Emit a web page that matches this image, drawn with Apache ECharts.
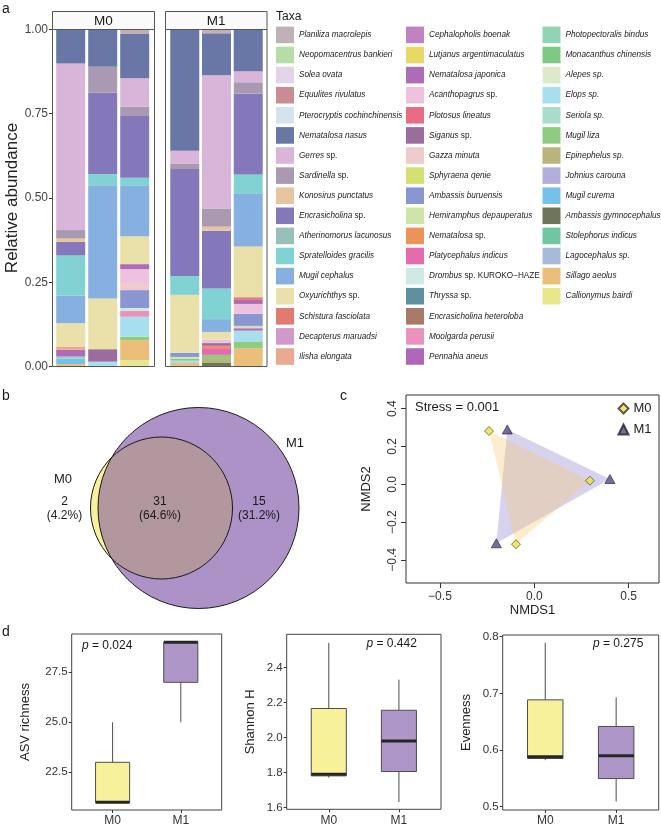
<!DOCTYPE html>
<html><head><meta charset="utf-8">
<script src="https://cdn.jsdelivr.net/npm/echarts@6/dist/echarts.min.js"></script>
<style>html,body{margin:0;padding:0;background:#fff}#c{width:661px;height:828px}</style>
</head><body><div id="c"></div>
<script>
const FONT = '"Liberation Sans", Arial, Helvetica, sans-serif';

// ---------- Panel a: taxa (legend order, top of stack first) ----------
const taxa = ['Planiliza macrolepis','Neopomacentrus bankieri','Solea ovata','Equulites rivulatus','Pterocryptis cochinchinensis','Nematalosa nasus','Gerres sp.','Sardinella sp.','Konosirus punctatus','Encrasicholina sp.','Atherinomorus lacunosus','Spratelloides gracilis','Mugil cephalus','Oxyurichthys sp.','Schistura fasciolata','Decapterus maruadsi','Ilisha elongata',
'Cephalopholis boenak','Lutjanus argentimaculatus','Nematalosa japonica','Acanthopagrus sp.','Plotosus lineatus','Siganus sp.','Gazza minuta','Sphyraena qenie','Ambassis buruensis','Hemiramphus depauperatus','Nematalosa sp.','Platycephalus indicus','Drombus sp. KUROKO\u2212HAZE','Thryssa sp.','Encrasicholina heteroloba','Moolgarda perusii','Pennahia aneus',
'Photopectoralis bindus','Monacanthus chinensis','Alepes sp.','Elops sp.','Seriola sp.','Mugil liza','Epinephelus sp.','Johnius carouna','Mugil curema','Ambassis gymnocephalus','Stolephorus indicus','Lagocephalus sp.','Sillago aeolus','Callionymus bairdi'];

const taxaColors = ['#BFB2B6','#B6DDA6','#E4D4EA','#C98B94','#D5E3EE','#6877A6','#D9B5DA','#A99AB2','#E9C59F','#8578BA','#98BFBA','#80D2D3','#86B0E0','#E9E1A9','#E17B71','#D398CA','#ECA98F',
'#C182C2','#E9D962','#AE6CB6','#EEC2DF','#E96C87','#9D6C9F','#F0CBCE','#D5E072','#8A96D1','#D0E4A7','#EE9357','#E56BAE','#CDEBE4','#5D90A1','#A97A6A','#E992BC','#B067B9',
'#90D4B3','#7EC983','#DEE9C9','#A7DFEE','#A9DCC9','#8FCC81','#B9B57A','#B4AEDB','#75C1EA','#6F7657','#6DC7A1','#A5BBD9','#EBBF79','#E9E78C'];

const samplesM0 = ['M0_1','M0_2','M0_3'];
const samplesM1 = ['M1_1','M1_2','M1_3'];

const abundM0_1 = {'Nematalosa nasus':0.101,'Gerres sp.':0.494,'Sardinella sp.':0.025,'Konosirus punctatus':0.010,'Encrasicholina sp.':0.040,'Spratelloides gracilis':0.119,'Mugil cephalus':0.082,'Oxyurichthys sp.':0.069,'Ilisha elongata':0.010,'Nematalosa japonica':0.020,'Photopectoralis bindus':0.006,'Mugil curema':0.016,'Sillago aeolus':0.008};
const abundM0_2 = {'Nematalosa nasus':0.111,'Sardinella sp.':0.077,'Encrasicholina sp.':0.241,'Spratelloides gracilis':0.033,'Mugil cephalus':0.336,'Oxyurichthys sp.':0.150,'Siganus sp.':0.037,'Elops sp.':0.015};
const abundM0_3 = {'Planiliza macrolepis':0.014,'Nematalosa nasus':0.131,'Gerres sp.':0.084,'Sardinella sp.':0.028,'Encrasicholina sp.':0.183,'Spratelloides gracilis':0.024,'Mugil cephalus':0.149,'Oxyurichthys sp.':0.083,'Nematalosa japonica':0.015,'Acanthopagrus sp.':0.041,'Gazza minuta':0.021,'Ambassis buruensis':0.053,'Drombus sp. KUROKO\u2212HAZE':0.009,'Moolgarda perusii':0.017,'Elops sp.':0.059,'Mugil liza':0.010,'Sillago aeolus':0.060,'Callionymus bairdi':0.019};
const abundM1_1 = {'Nematalosa nasus':0.360,'Gerres sp.':0.039,'Sardinella sp.':0.015,'Encrasicholina sp.':0.317,'Spratelloides gracilis':0.056,'Oxyurichthys sp.':0.172,'Ambassis buruensis':0.012,'Hemiramphus depauperatus':0.005,'Monacanthus chinensis':0.006,'Elops sp.':0.007,'Sillago aeolus':0.011};
const abundM1_2 = {'Planiliza macrolepis':0.012,'Nematalosa nasus':0.124,'Gerres sp.':0.395,'Sardinella sp.':0.054,'Konosirus punctatus':0.012,'Encrasicholina sp.':0.171,'Spratelloides gracilis':0.091,'Mugil cephalus':0.038,'Oxyurichthys sp.':0.023,'Acanthopagrus sp.':0.010,'Siganus sp.':0.008,'Nematalosa sp.':0.007,'Platycephalus indicus':0.020,'Mugil liza':0.012,'Epinephelus sp.':0.012,'Ambassis gymnocephalus':0.011};
const abundM1_3 = {'Nematalosa nasus':0.124,'Gerres sp.':0.033,'Sardinella sp.':0.033,'Encrasicholina sp.':0.240,'Spratelloides gracilis':0.058,'Mugil cephalus':0.156,'Oxyurichthys sp.':0.150,'Schistura fasciolata':0.008,'Nematalosa japonica':0.012,'Acanthopagrus sp.':0.029,'Ambassis buruensis':0.036,'Hemiramphus depauperatus':0.007,'Pennahia aneus':0.007,'Elops sp.':0.032,'Mugil liza':0.020,'Sillago aeolus':0.055};
const yTicksA = [0, 0.25, 0.5, 0.75, 1];

// ---------- Panel b: Venn ----------
const vennSets = ['M0','M1'];
const vennCounts = [2, 31, 15];        // M0 only, shared, M1 only
const vennPercents = ['4.2%','64.6%','31.2%'];

// ---------- Panel c: NMDS ----------
const nmdsM0 = [[-0.240, 0.282],[0.295, 0.019],[-0.097,-0.317]];
const nmdsM1 = [[-0.143, 0.290],[0.401, 0.028],[-0.201,-0.312]];
const nmdsStress = '0.001';
const nmdsXTicks = [-0.5, 0, 0.5];
const nmdsYTicks = [-0.4, -0.2, 0, 0.2, 0.4];

// ---------- Panel d: alpha diversity ----------
const groups = ['M0','M1'];
const asvM0 = [21, 21, 25], asvM1 = [25, 29, 29];
const shannonM0 = [1.77, 1.79, 2.54], shannonM1 = [1.63, 1.98, 2.33];
const evenM0 = [0.582, 0.588, 0.789], evenM1 = [0.509, 0.590, 0.693];
const pValues = ['0.024', '0.442', '0.275'];
const asvTicks = [22.5, 25, 27.5];
const shannonTicks = [1.6, 1.8, 2.0, 2.2, 2.4];
const evenTicks = [0.5, 0.6, 0.7, 0.8];

// ================= build =================
const chart = echarts.init(document.getElementById('c'), null, {renderer:'canvas'});
const colorOf = {}; taxa.forEach((t,i)=>colorOf[t]=taxaColors[i]);
const m0Samples = [abundM0_1, abundM0_2, abundM0_3];
const m1Samples = [abundM1_1, abundM1_2, abundM1_3];

const series = [];
// ECharts stacks first series at the bottom -> add in reverse legend order
taxa.slice().reverse().forEach(t => {
  [[0, m0Samples, 'm0'], [1, m1Samples, 'm1']].forEach(([gi, samp, st]) => {
    series.push({type:'bar', name:t, xAxisIndex:gi, yAxisIndex:gi, stack:st, barWidth:29,
      data: samp.map(s => s[t] || 0), itemStyle:{color:colorOf[t]}, emphasis:{disabled:true}, silent:true});
  });
});

// Venn
const vennLayout = {m0:{cx:161.5, cy:128, r:71}, m1:{cx:198.5, cy:128, r:100.5}};
series.push({type:'custom', name:'venn', xAxisIndex:2, yAxisIndex:2, data:[[0,0]], silent:true, clip:false,
  renderItem(params, api){
    const c0 = api.coord([vennLayout.m0.cx, vennLayout.m0.cy]);
    const c1 = api.coord([vennLayout.m1.cx, vennLayout.m1.cy]);
    const r0 = api.size([vennLayout.m0.r, 0])[0];
    const r1 = api.size([vennLayout.m1.r, 0])[0];
    const dx = c1[0]-c0[0], dy = c1[1]-c0[1], d = Math.hypot(dx, dy);
    const a = (d*d + r0*r0 - r1*r1)/(2*d);
    const h = Math.sqrt(Math.max(0, r0*r0 - a*a));
    const ux = dx/d, uy = dy/d, px = c0[0]+a*ux, py = c0[1]+a*uy;
    const pLow = [px - h*uy, py + h*ux], pUp = [px + h*uy, py - h*ux];
    const cres = `M ${pUp[0]} ${pUp[1]} A ${r0} ${r0} 0 0 0 ${pLow[0]} ${pLow[1]} A ${r1} ${r1} 0 0 1 ${pUp[0]} ${pUp[1]} Z`;
    return {type:'group', children:[
      {type:'circle', shape:{cx:c1[0], cy:c1[1], r:r1}, style:{fill:'#AC92C7', stroke:null}},
      {type:'circle', shape:{cx:c0[0], cy:c0[1], r:r0}, style:{fill:'#B3979F', stroke:null}},
      {type:'path', shape:{pathData:cres}, style:{fill:'#F7F09C', stroke:null}},
      {type:'circle', shape:{cx:c1[0], cy:c1[1], r:r1}, style:{fill:'none', stroke:'#1a1a1a', lineWidth:1}},
      {type:'circle', shape:{cx:c0[0], cy:c0[1], r:r0}, style:{fill:'none', stroke:'#1a1a1a', lineWidth:1}}
    ]};
  }});

// NMDS hulls + points
function hull(points, fill){
  return function(params, api){
    if (params.dataIndex !== 0) return null;
    return {type:'polygon', shape:{points: points.map(p => api.coord(p))}, style:{fill}};
  };
}
series.push({type:'custom', name:'M1 hull', xAxisIndex:3, yAxisIndex:3, data:nmdsM1, silent:true, z:1, renderItem:hull(nmdsM1, 'rgba(160,150,215,0.42)')});
series.push({type:'custom', name:'M0 hull', xAxisIndex:3, yAxisIndex:3, data:nmdsM0, silent:true, z:1, renderItem:hull(nmdsM0, 'rgba(245,200,105,0.32)')});
series.push({type:'scatter', name:'M0', xAxisIndex:3, yAxisIndex:3, data:nmdsM0, symbol:'diamond', symbolSize:[9,9], z:5,
  itemStyle:{color:'#EEE13B', borderColor:'#333', borderWidth:0.8}, emphasis:{disabled:true}, silent:true});
series.push({type:'scatter', name:'M1', xAxisIndex:3, yAxisIndex:3, data:nmdsM1, symbol:'triangle', symbolSize:[10,9], z:5,
  itemStyle:{color:'#5B4689', borderColor:'#222', borderWidth:0.8}, emphasis:{disabled:true}, silent:true});

// Box plots
function quant(arr, p){ const s=[...arr].sort((a,b)=>a-b); const h=(s.length-1)*p; const lo=Math.floor(h); const hi=Math.min(lo+1, s.length-1); return s[lo]+(h-lo)*(s[hi]-s[lo]); }
function boxStats(x, arr){ return [x, quant(arr,0), quant(arr,0.25), quant(arr,0.5), quant(arr,0.75), quant(arr,1)]; }
const boxFills = ['#F8F19C', '#AF96C9'];
function boxRender(params, api){
  const x = api.value(0);
  const pMin = api.coord([x, api.value(1)]), pQ1 = api.coord([x, api.value(2)]), pMed = api.coord([x, api.value(3)]),
        pQ3 = api.coord([x, api.value(4)]), pMax = api.coord([x, api.value(5)]);
  const hw = api.size([0.25, 0])[0];
  const ls = {stroke:'#4d4d4d', lineWidth:1};
  return {type:'group', children:[
    {type:'line', shape:{x1:pMax[0], y1:pMax[1], x2:pQ3[0], y2:pQ3[1]}, style:ls},
    {type:'line', shape:{x1:pQ1[0], y1:pQ1[1], x2:pMin[0], y2:pMin[1]}, style:ls},
    {type:'rect', shape:{x:pQ3[0]-hw, y:pQ3[1], width:2*hw, height:pQ1[1]-pQ3[1]}, style:{fill:boxFills[params.dataIndex], stroke:'#4d4d4d', lineWidth:1}},
    {type:'line', shape:{x1:pMed[0]-hw, y1:pMed[1], x2:pMed[0]+hw, y2:pMed[1]}, style:{stroke:'#262626', lineWidth:3}}
  ]};
}
[[asvM0, asvM1], [shannonM0, shannonM1], [evenM0, evenM1]].forEach((pair, k) => {
  series.push({type:'custom', name:'box'+k, xAxisIndex:4+k, yAxisIndex:4+k, silent:true,
    data:[boxStats(1, pair[0]), boxStats(2, pair[1])], renderItem:boxRender});
});

// ----- axes -----
const minusFmt = v => (v < 0 ? '\u2212' : '') + Math.abs(v).toFixed(1);
const boxX = gi => ({gridIndex:gi, type:'value', min:0.4, max:2.6, axisLine:{show:false, onZero:false}, splitLine:{show:false},
  axisTick:{show:true, customValues:[1,2], length:3, lineStyle:{color:'#333'}},
  axisLabel:{customValues:[1,2], formatter:v => groups[Math.round(v)-1], fontSize:12, color:'#333', margin:5}});
const boxY = (gi, min, max, ticks, name, gap) => ({gridIndex:gi, type:'value', min, max, name, nameLocation:'middle', nameGap:gap, nameRotate:90,
  nameTextStyle:{fontSize:13, color:'#222'}, axisLine:{show:false, onZero:false}, splitLine:{show:false},
  axisTick:{show:true, customValues:ticks, length:3, lineStyle:{color:'#333'}},
  axisLabel:{customValues:ticks, formatter:v => v.toFixed(1), fontSize:11.5, color:'#333', margin:4}});

const xAxis = [
  {gridIndex:0, type:'category', data:samplesM0, show:false},
  {gridIndex:1, type:'category', data:samplesM1, show:false},
  {gridIndex:2, type:'value', min:0, max:330, show:false},
  {gridIndex:3, type:'value', min:-0.68, max:0.661, name:'NMDS1', nameLocation:'middle', nameGap:16,
    nameTextStyle:{fontSize:13, color:'#222'}, axisLine:{show:false, onZero:false}, splitLine:{show:false},
    axisTick:{show:true, customValues:nmdsXTicks, length:5, lineStyle:{color:'#333'}},
    axisLabel:{customValues:nmdsXTicks, formatter:minusFmt, fontSize:12, color:'#333', margin:8}},
  boxX(4), boxX(5), boxX(6)
];
const yAxis = [
  {gridIndex:0, type:'value', min:0, max:1, interval:0.25, offset:2.7, name:'Relative abundance', nameLocation:'middle', nameGap:26, nameRotate:90,
    nameTextStyle:{fontSize:17, color:'#222'}, axisLine:{show:false, onZero:false}, splitLine:{show:false},
    axisTick:{show:true, length:3, lineStyle:{color:'#333'}},
    axisLabel:{formatter:v => v.toFixed(2), fontSize:12, color:'#444', margin:4}},
  {gridIndex:1, type:'value', min:0, max:1, show:false},
  {gridIndex:2, type:'value', min:0, max:250, inverse:true, show:false},
  {gridIndex:3, type:'value', min:-0.522, max:0.4725, name:'NMDS2', nameLocation:'middle', nameGap:33, nameRotate:90,
    nameTextStyle:{fontSize:13, color:'#222'}, axisLine:{show:false, onZero:false}, splitLine:{show:false},
    axisTick:{show:true, customValues:nmdsYTicks, length:5, lineStyle:{color:'#333'}},
    axisLabel:{customValues:nmdsYTicks, formatter:minusFmt, rotate:90, fontSize:12, color:'#333', margin:7}},
  boxY(4, 20.615, 29.415, asvTicks, 'ASV richness', 40),
  boxY(5, 1.589, 2.589, shannonTicks, 'Shannon H', 30),
  boxY(6, 0.494, 0.803, evenTicks, 'Evenness', 29.5)
];

const gridBorder = {show:true, borderColor:'#444', borderWidth:1, backgroundColor:'transparent'};
const grid = [
  {left:54.7, top:29.3, width:96, height:337.4},
  {left:168.9, top:29.3, width:95.2, height:337.4},
  {left:0, top:380, width:330, height:250},
  Object.assign({left:406, top:395, width:253, height:188}, gridBorder, {borderColor:'#333'}),
  Object.assign({left:71.7, top:634, width:150, height:176}, gridBorder),
  Object.assign({left:286.7, top:634.3, width:154.3, height:175}, gridBorder),
  Object.assign({left:502.7, top:635, width:156, height:175}, gridBorder)
];

// ----- legends -----
const col3 = new Set(taxa.slice(34));
function legendFmt(name){
  if (col3.has(name)) return '{i|' + name + '}';
  const k = name.indexOf(' sp.');
  if (k >= 0) return '{i|' + name.slice(0, k) + '} {n|' + name.slice(k + 1) + '}';
  return '{i|' + name + '}';
}
const legTxt = {fontSize:8.2, color:'#1a1a1a', fontFamily:FONT};
const legendCols = [taxa.slice(0,17), taxa.slice(17,34), taxa.slice(34)];
const legend = legendCols.map((cols, c) => ({
  data: cols, orient:'vertical', left:[276, 406, 542.5][c], top:26.6, padding:0,
  itemWidth:18, itemHeight:16.6, itemGap:3.5, icon:'rect', selectedMode:false,
  formatter: legendFmt,
  textStyle: Object.assign({}, legTxt, {rich:{i:Object.assign({fontStyle:'italic'}, legTxt), n:Object.assign({}, legTxt)}})
}));
legend.push({data:['M0','M1'], orient:'vertical', left:617.5, top:402, padding:0, itemWidth:10, itemHeight:10, itemGap:8,
  selectedMode:false, textStyle:{fontSize:13, color:'#222'}});

// ----- graphic (frames, strips and annotation text) -----
const T = (x, y, text, size, align, extra) => ({type:'text', x, y, z:50, silent:true,
  style:Object.assign({text, font: size + 'px ' + FONT, fill:'#1a1a1a', align:align||'left', textAlign:align||'left', verticalAlign:'middle', textVerticalAlign:'middle'}, extra||{})});
const g = [];
g.push(T(2, 9, 'a', 14)); g.push(T(2, 396, 'b', 14)); g.push(T(340, 396, 'c', 14)); g.push(T(2, 632, 'd', 14));
g.push(T(276, 17, 'Taxa', 12));
[[52.5, 102, 'M0'], [165.5, 101.5, 'M1']].forEach(([x, w, lab]) => {
  g.push({type:'rect', z:50, silent:true, shape:{x, y:11.5, width:w, height:18}, style:{fill:'#FAFAFA', stroke:'#555', lineWidth:1}});
  g.push(T(x + w/2, 21, lab, 13.5, 'center'));
  g.push({type:'rect', z:50, silent:true, shape:{x, y:29.5, width:w, height:337}, style:{fill:'none', stroke:'#555', lineWidth:1}});
});
// Venn labels
g.push(T(63, 479, vennSets[0], 13, 'center'));
g.push(T(295, 443, vennSets[1], 13, 'center'));
[[64.5, 0], [160, 1], [259, 2]].forEach(([x, i]) => {
  g.push(T(x, 501.5, String(vennCounts[i]), 12, 'center'));
  g.push(T(x, 516, '(' + vennPercents[i] + ')', 12, 'center'));
});
g.push(T(415, 407, 'Stress = ' + nmdsStress, 13));
[[82, 646], [366.5, 644], [593, 643.5]].forEach(([x, y], i) => {
  g.push(T(x, y, '{i|p} = ' + pValues[i], 12, 'left', {rich:{i:{fontStyle:'italic', font:'italic 12px ' + FONT, fill:'#1a1a1a'}}}));
});

chart.setOption({
  animation:false,
  textStyle:{fontFamily:FONT},
  grid, xAxis, yAxis, legend, series,
  graphic:{elements:g}
});
</script></body></html>
